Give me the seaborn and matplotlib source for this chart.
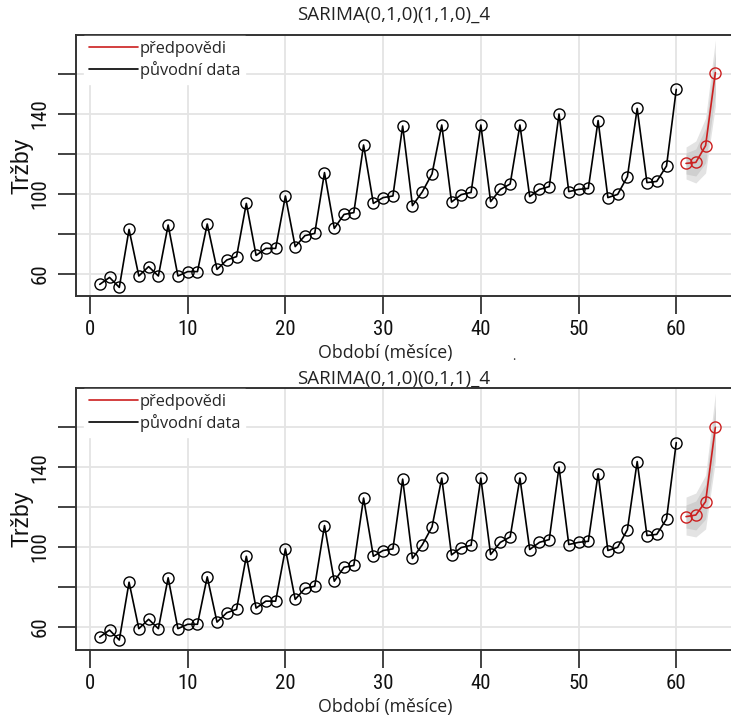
import numpy as np
import pandas as pd
import seaborn as sns
import matplotlib.pyplot as plt
from matplotlib.lines import Line2D
from matplotlib import font_manager

# puvodni data (mesicni trzby)
obdobi = list(range(1, 61))
trzby = [54.8, 58.3, 53.3, 82.3, 59, 63.7, 59, 84.5, 59, 61.2,
         61.2, 85, 62.3, 67, 68.7, 95.3, 69.3, 72.8, 72.8, 99,
         73.7, 79.2, 80.3, 110.7, 82.8, 89.8, 90.7, 124.5, 95.3, 98.2,
         99, 134, 94.2, 101, 110, 134.5, 96, 99.7, 100.8, 134.5,
         96.2, 102.3, 105, 134.5, 98.7, 102.3, 103.7, 140, 101.2, 102.3,
         102.8, 136.7, 98.2, 99.8, 108.7, 142.8, 105.7, 106.3, 114, 152.3]

# predpovedi
obdobi_pred = [61, 62, 63, 64]

pred_1 = [115.3, 115.8, 124.2, 160.7]
lo80_1 = [110, 109, 115.5, 150]
hi80_1 = [120.5, 122.5, 133, 171]
lo95_1 = [107.5, 105.5, 110.5, 144]
hi95_1 = [123.5, 126.5, 138, 177]

pred_2 = [115.2, 116.0, 122.7, 160.0]
lo80_2 = [109.5, 108.5, 114, 149]
hi80_2 = [121, 123, 131.5, 171]
lo95_2 = [106, 105, 109, 143]
hi95_2 = [125, 127, 136, 177]

titulky = ['SARIMA(0,1,0)(1,1,0)_4', 'SARIMA(0,1,0)(0,1,1)_4']

df = pd.DataFrame({'obdobi': obdobi, 'trzby': trzby})

sns.set_style('white')
plt.rcParams['font.family'] = ['Open Sans', 'DejaVu Sans']

# uzke pismo na popisky os, pokud je k dispozici
dostupne = {f.name for f in font_manager.fontManager.ttflist}
uzke = [f for f in ['Liberation Sans Narrow', 'Roboto Condensed', 'Open Sans Condensed',
                    'Noto Sans Condensed', 'Liberation Sans'] if f in dostupne]
uzke = uzke[:1] + ['DejaVu Sans']

W, H = 731, 717
fig = plt.figure(figsize=(W / 100, H / 100), dpi=100)

# pozice os v pixelech: (levy, horni, dolni)
panely = [(76, 35, 296, (49, 179.5)), (76, 388, 650, (48.3, 179.7))]
tit_pad = [11, 3]

predikce = [(pred_1, lo80_1, hi80_1, lo95_1, hi95_1),
            (pred_2, lo80_2, hi80_2, lo95_2, hi95_2)]

for i, (l, t, b, ylim) in enumerate(panely):
    ax = fig.add_axes([l / W, 1 - b / H, (W - l) / W, (b - t) / H])
    pred, lo80, hi80, lo95, hi95 = predikce[i]

    ax.fill_between(obdobi_pred, lo95, hi95, color='#e3e3e3', lw=0, zorder=1)
    ax.fill_between(obdobi_pred, lo80, hi80, color='#cfcfcf', lw=0, zorder=1)

    sns.lineplot(data=df, x='obdobi', y='trzby', ax=ax, color='black', lw=1.2,
                 marker='o', markersize=8, markerfacecolor='none',
                 markeredgecolor='black', markeredgewidth=1.0, zorder=3)
    sns.lineplot(x=obdobi_pred, y=pred, ax=ax, color='#cc1f1f', lw=1.2,
                 marker='o', markersize=8, markerfacecolor='none',
                 markeredgecolor='#cc1f1f', markeredgewidth=1.0, zorder=3)

    ax.set_xlim(-1.43, 65.6)
    ax.set_ylim(*ylim)
    ax.set_xticks([0, 10, 20, 30, 40, 50, 60])
    ax.set_yticks([60, 80, 100, 120, 140, 160])
    ax.set_yticklabels(['60', '', '100', '', '140', ''])
    ax.grid(True, color='#e4e4e4', lw=1.3, zorder=0)
    ax.set_axisbelow(True)

    for s in ['top', 'left', 'bottom']:
        ax.spines[s].set_color('#333333')
        ax.spines[s].set_linewidth(1.4)
    ax.spines['right'].set_visible(False)

    ax.tick_params(axis='both', direction='out', length=13, width=1.2,
                   color='#222222', labelsize=15, labelcolor='#111111')
    ax.tick_params(axis='x', pad=4, bottom=True)
    ax.tick_params(axis='y', pad=6, left=True)
    for lab in ax.get_xticklabels() + ax.get_yticklabels():
        lab.set_family(uzke)
    for lab in ax.get_yticklabels():
        lab.set_rotation(90)
        lab.set_va('center')

    ax.set_title(titulky[i], fontsize=13.5, x=0.485, pad=tit_pad[i], color='#222222')
    ax.set_xlabel('Období (měsíce)', fontsize=12.8, color='#222222')
    ax.xaxis.set_label_coords((385 - l) / (W - l), -(344 - 296) / (b - t))
    ax.set_ylabel('Tržby', fontsize=16.5, family=['Liberation Sans', 'DejaVu Sans'],
                  color='#111111')
    ax.yaxis.set_label_coords(-(76 - 34) / (W - l), 0.5)

    handles = [Line2D([], [], color='#cc1f1f', lw=1.2),
               Line2D([], [], color='black', lw=1.2)]
    leg = ax.legend(handles, ['předpovědi', 'původní data'], loc='upper left',
                    bbox_to_anchor=(8 / (W - l), 1 - 1 / (b - t)), fontsize=11.8,
                    handlelength=3.0, handletextpad=0.1, labelspacing=0.25,
                    borderaxespad=0, borderpad=0.3, frameon=True, fancybox=False,
                    framealpha=1, facecolor='white', edgecolor='white')
    leg.set_zorder(5)

fig.text(514 / W, 1 - 357 / H, '.', fontsize=9, ha='center', va='center', color='#333333')

fig.savefig('out.png', dpi=100)
